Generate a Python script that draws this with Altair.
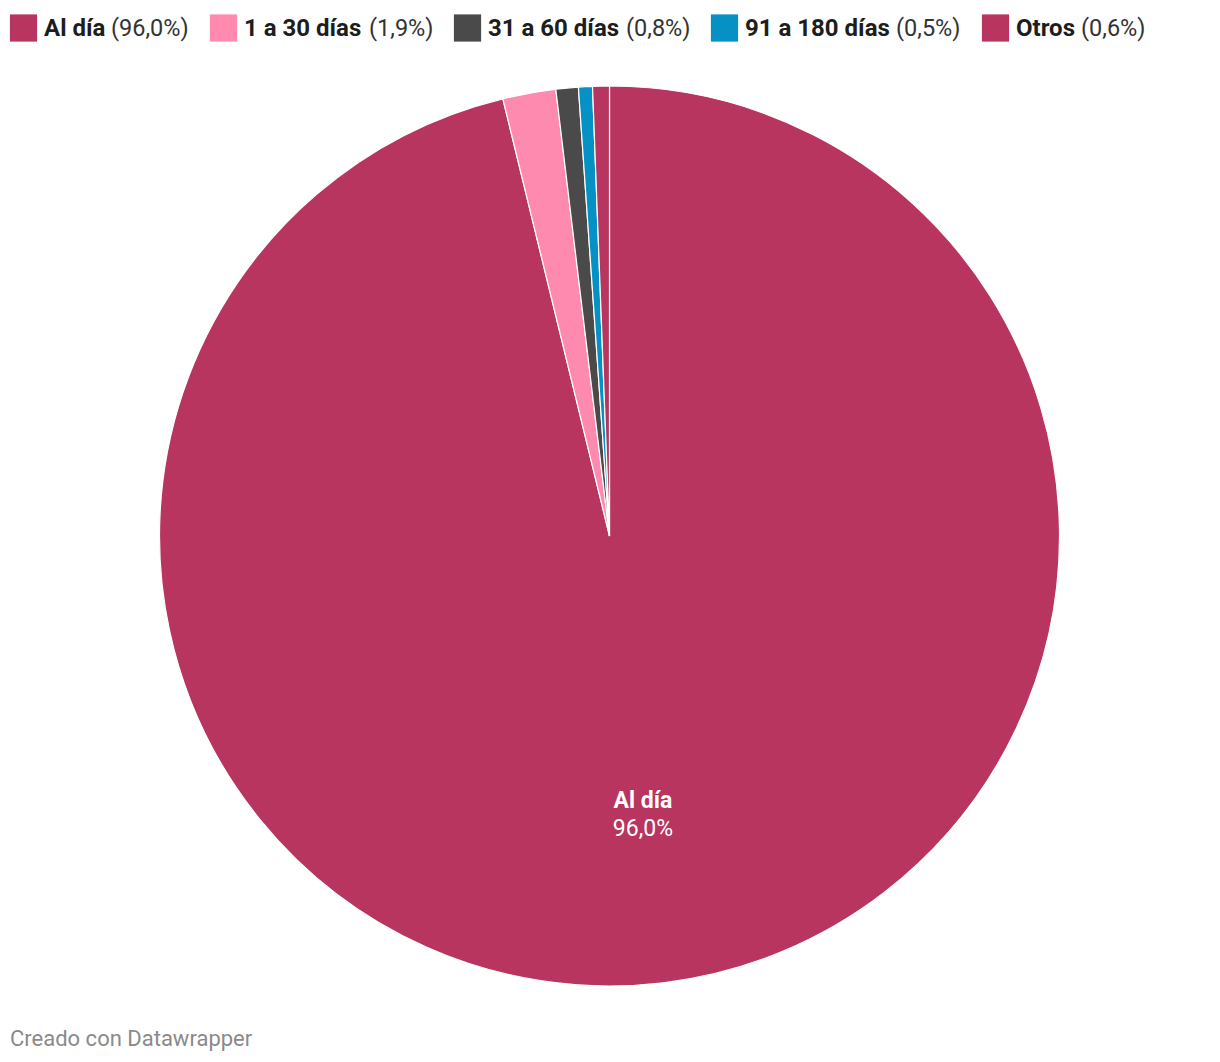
import altair as alt
import pandas as pd

# ---- data ----
categories = ["Al día", "1 a 30 días", "31 a 60 días", "91 a 180 días", "Otros"]
values = [96.0, 1.9, 0.8, 0.5, 0.6]
pct_labels = ["(96,0%)", "(1,9%)", "(0,8%)", "(0,5%)", "(0,6%)"]
colors = ["#b7355f", "#ff8ab0", "#4a4a4a", "#0591c4", "#b7355f"]

# ---- layout (pixels) ----
W, H = 1204, 1046
CX, CY, R = 601.5, 528, 450
FONT = "Roboto"
legend_square_x = [15.5, 215.5, 459.5, 716.5, 987.5]
legend_name_x = [36, 236, 480, 737, 1008]
legend_pct_x = [103, 361, 618, 888, 1073]
legend_y = 21

df = pd.DataFrame({
    "category": categories,
    "value": values,
    "order": list(range(len(categories))),
    "label": [f"{v:.1f}%".replace(".", ",") for v in values],
})

leg = pd.DataFrame({
    "category": categories,
    "pct": pct_labels,
    "sx": legend_square_x,
    "nx": legend_name_x,
    "px": legend_pct_x,
})

color_scale = alt.Scale(domain=categories, range=colors)

base = alt.Chart(df).encode(
    theta=alt.Theta("value:Q", stack=True),
    order=alt.Order("order:Q"),
)

pie = base.mark_arc(outerRadius=R, stroke="white", strokeWidth=1.2).encode(
    color=alt.Color("category:N", scale=color_scale, legend=None),
    x=alt.value(CX),
    y=alt.value(CY),
)

lab1 = base.mark_text(radius=280, dy=-13, font=FONT, fontSize=23, fontWeight="bold",
                      color="white").encode(
    text=alt.condition("datum.category == 'Al día'", "category:N", alt.value("")),
    x=alt.value(CX), y=alt.value(CY),
)
lab2 = base.mark_text(radius=280, dy=15, font=FONT, fontSize=23,
                      color="white").encode(
    text=alt.condition("datum.category == 'Al día'", "label:N", alt.value("")),
    x=alt.value(CX), y=alt.value(CY),
)

lbase = alt.Chart(leg)
sq = lbase.mark_square(size=740, opacity=1).encode(
    x=alt.X("sx:Q", scale=None),
    y=alt.value(20),
    color=alt.Color("category:N", scale=color_scale, legend=None),
)
names = lbase.mark_text(align="left", baseline="middle", font=FONT, fontSize=24,
                        fontWeight="bold", color="#1d1d1d").encode(
    x=alt.X("nx:Q", scale=None), y=alt.value(legend_y), text="category:N"
)
pcts = lbase.mark_text(align="left", baseline="middle", font=FONT, fontSize=23.5,
                       color="#333333").encode(
    x=alt.X("px:Q", scale=None), y=alt.value(legend_y), text="pct:N"
)

footer = alt.Chart(pd.DataFrame({"t": ["Creado con Datawrapper"]})).mark_text(
    align="left", baseline="middle", font=FONT, fontSize=22, color="#8a8a8a"
).encode(x=alt.value(2), y=alt.value(1031), text="t:N")

chart = alt.layer(pie, lab1, lab2, sq, names, pcts, footer).properties(
    width=W, height=H, autosize=alt.AutoSizeParams(type="none"), padding=0
).resolve_scale(theta="independent").configure_view(stroke=None)

chart.save("out.html", embed_options={"renderer": "svg", "actions": False})
